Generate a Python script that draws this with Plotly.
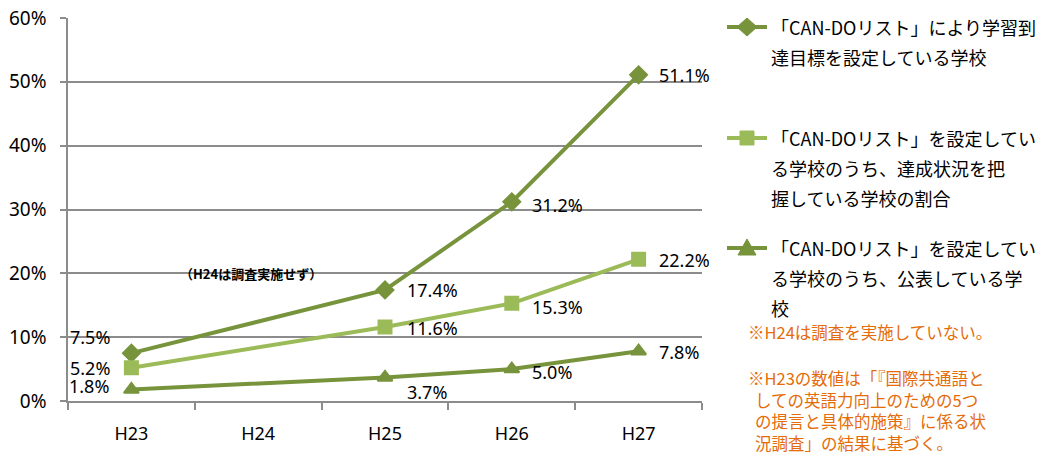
import plotly.graph_objects as go

# ---- data -------------------------------------------------------------
years = ["H23", "H24", "H25", "H26", "H27"]
goal_set = [7.5, None, 17.4, 31.2, 51.1]        # 学習到達目標を設定している学校
progress_known = [5.2, None, 11.6, 15.3, 22.2]  # 達成状況を把握している学校の割合
published = [1.8, None, 3.7, 5.0, 7.8]          # 公表している学校
y_ticks = [0, 10, 20, 30, 40, 50, 60]
y_tick_labels = [f"{v}%" for v in y_ticks]

legend_lines = [
    ["「CAN-DOリスト」により学習到", "達目標を設定している学校"],
    ["「CAN-DOリスト」を設定してい", "る学校のうち、達成状況を把", "握している学校の割合"],
    ["「CAN-DOリスト」を設定してい", "る学校のうち、公表している学", "校"],
]
note_1 = "※H24は調査を実施していない。"
note_2 = ["※H23の数値は「『国際共通語と", "しての英語力向上のための5つ",
          "の提言と具体的施策』に係る状", "況調査」の結果に基づく。"]
gap_note = "（H24は調査実施せず）"

# ---- style ------------------------------------------------------------
W, H = 1047, 457
PL, PR, PT, PB = 68, 702, 18, 401
DARK = "#77933C"
LIGHT = "#9BBB59"
GRID = "#8C8C8C"
ORANGE = "#E46C0A"
JP = "Noto Sans CJK JP"
NUM = "Noto Sans"

series = [
    dict(vals=goal_set, color=DARK, symbol="diamond", size=13),
    dict(vals=progress_known, color=LIGHT, symbol="square", size=13),
    dict(vals=published, color=DARK, symbol="triangle-up", size=13),
]

# label placement per point: (xanchor, xshift, yshift)
label_pos = [
    [("right", -19, 16), None, ("left", 20, 0), ("left", 18, -3), ("left", 18, 0)],
    [("right", -19, 0), None, ("left", 20, -1), ("left", 18, -4), ("left", 18, -1)],
    [("right", -20, 4), None, ("left", 20, -15), ("left", 18, -3), ("left", 18, -1)],
]


def fx(px):
    return (px - PL) / (PR - PL)


def fy(py):
    return (PB - py) / (PB - PT)


fig = go.Figure()
annotations = []
shapes = []

for s, pos in zip(series, label_pos):
    fig.add_trace(go.Scatter(
        x=years, y=s["vals"], mode="lines+markers", connectgaps=True,
        line=dict(color=s["color"], width=4),
        marker=dict(symbol=s["symbol"], size=s["size"], color=s["color"],
                    line=dict(color=s["color"], width=2)),
        showlegend=False, hoverinfo="skip",
    ))
    for yr, v, p in zip(years, s["vals"], pos):
        if v is None:
            continue
        anchor, dx, dy = p
        annotations.append(dict(
            x=yr, y=v, xref="x", yref="y", text=f"{v:.1f}%", showarrow=False,
            xanchor=anchor, yanchor="middle", xshift=dx, yshift=dy,
            font=dict(family=NUM, size=18, color="#000000"),
        ))

annotations.append(dict(
    x="H24", y=20, xref="x", yref="y", text=f"<b>{gap_note}</b>", showarrow=False,
    xanchor="center", yanchor="middle", xshift=-7,
    font=dict(family=JP, size=13, color="#000000"),
))

# ---- legend (keys drawn as shapes, text as annotations) ----------------
legend_rows = [27, 138, 248]
line_gap = 30
key_paths = {
    "diamond": "M -10 0 L 0 9 L 10 0 L 0 -9 Z",
    "square": "M -7 -7 L 7 -7 L 7 7 L -7 7 Z",
    "triangle-up": "M -9 -7 L 9 -7 L 0 9 Z",
}
for s, y0, lines in zip(series, legend_rows, legend_lines):
    shapes.append(dict(type="line", xref="paper", yref="paper",
                       x0=fx(727), x1=fx(767), y0=fy(y0), y1=fy(y0),
                       line=dict(color=s["color"], width=4)))
    shapes.append(dict(type="path", xref="paper", yref="paper",
                       xsizemode="pixel", ysizemode="pixel",
                       xanchor=fx(747), yanchor=fy(y0),
                       path=key_paths[s["symbol"]],
                       fillcolor=s["color"], line=dict(color=s["color"], width=1)))
    for i, t in enumerate(lines):
        annotations.append(dict(
            x=fx(769), y=fy(y0 + i * line_gap), xref="paper", yref="paper",
            text=t, showarrow=False, xanchor="left", yanchor="middle",
            font=dict(family=JP, size=18, color="#000000"),
        ))

# ---- notes ------------------------------------------------------------
annotations.append(dict(
    x=fx(746), y=fy(332), xref="paper", yref="paper", text=note_1,
    showarrow=False, xanchor="left", yanchor="middle",
    font=dict(family=JP, size=16.5, color=ORANGE),
))
for i, t in enumerate(note_2):
    annotations.append(dict(
        x=fx(746 if i == 0 else 753), y=fy(378 + i * 21.5),
        xref="paper", yref="paper", text=t,
        showarrow=False, xanchor="left", yanchor="middle",
        font=dict(family=JP, size=16.5, color=ORANGE),
    ))

fig.update_layout(
    width=W, height=H,
    margin=dict(l=PL, r=W - PR, t=PT, b=H - PB, pad=0),
    paper_bgcolor="white", plot_bgcolor="white",
    annotations=annotations, shapes=shapes,
    xaxis=dict(
        type="category", range=[-0.5, 4.5], tickson="boundaries",
        ticks="outside", ticklen=7, tickcolor=GRID, tickwidth=1.5,
        showline=True, linecolor=GRID, linewidth=1.5,
        showgrid=False, ticklabelstandoff=16, automargin=False,
        tickfont=dict(family=NUM, size=18, color="#000000"),
    ),
    yaxis=dict(
        range=[0, 60], tickvals=y_ticks, ticktext=y_tick_labels,
        ticks="outside", ticklen=6, tickcolor=GRID, tickwidth=1.5,
        showline=True, linecolor=GRID, linewidth=1.5,
        showgrid=True, gridcolor=GRID, gridwidth=1.5, zeroline=False,
        ticklabelstandoff=10, automargin=False,
        tickfont=dict(family=NUM, size=19, color="#000000"),
    ),
)

fig.write_html("out.html")
